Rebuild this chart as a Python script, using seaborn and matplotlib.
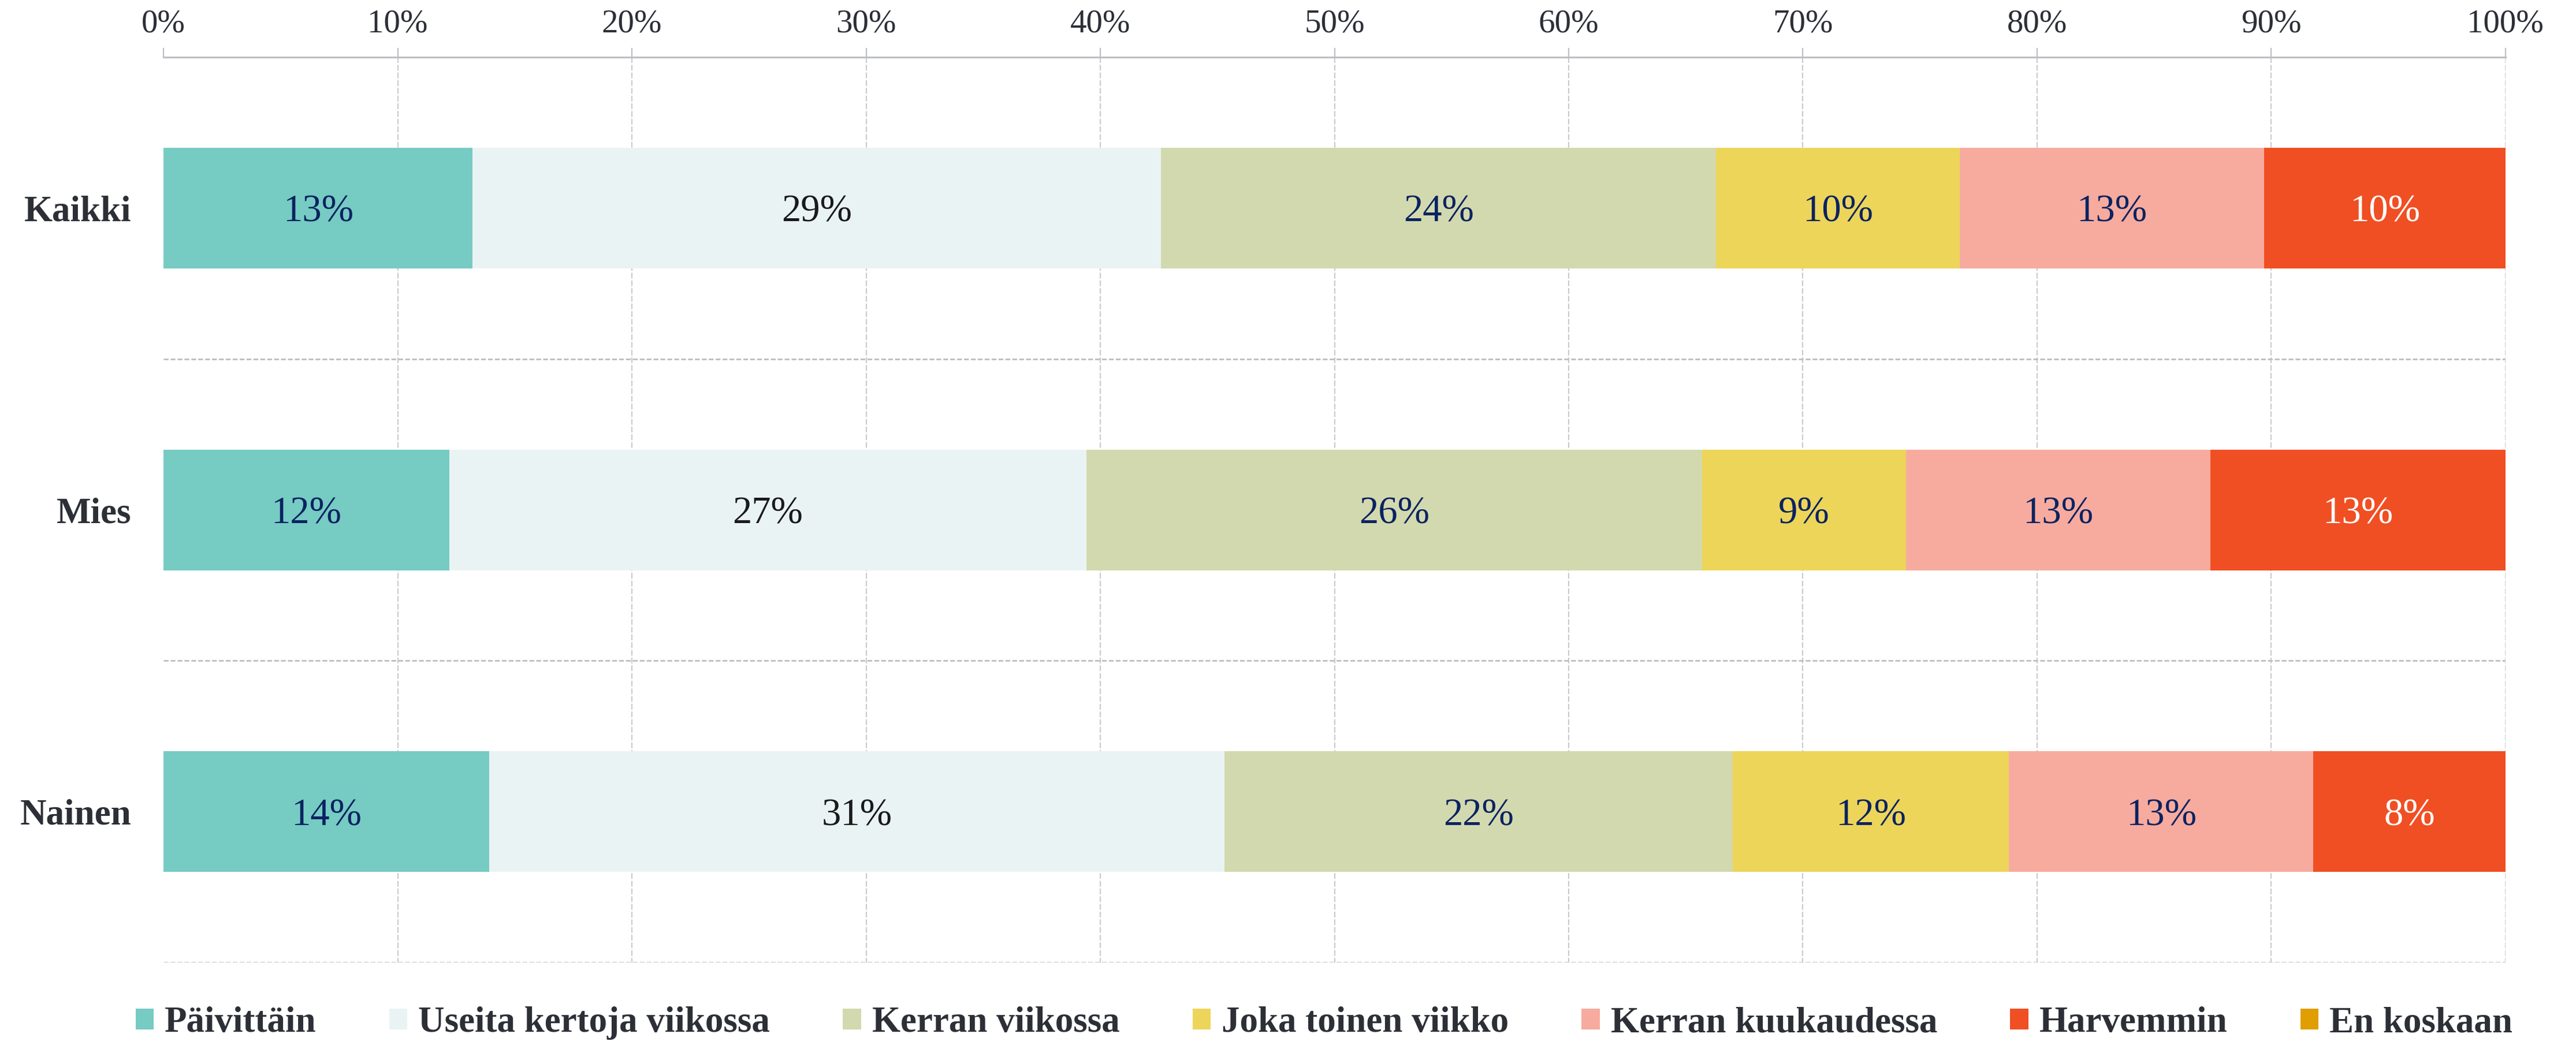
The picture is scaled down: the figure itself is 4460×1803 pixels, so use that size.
import numpy as np
import pandas as pd
import matplotlib
matplotlib.use("Agg")
import matplotlib.pyplot as plt
import seaborn as sns
from matplotlib.patches import Patch

# ---------------- data ----------------
categories = ["Kaikki", "Mies", "Nainen"]
series_names = ["Päivittäin", "Useita kertoja viikossa", "Kerran viikossa",
                "Joka toinen viikko", "Kerran kuukaudessa", "Harvemmin", "En koskaan"]
paivittain = [13.2, 12.2, 13.9]
useita_kertoja_viikossa = [29.4, 27.2, 31.4]
kerran_viikossa = [23.7, 26.3, 21.7]
joka_toinen_viikko = [10.4, 8.7, 11.8]
kerran_kuukaudessa = [13.0, 13.0, 13.0]
harvemmin = [10.3, 12.6, 8.2]
en_koskaan = [0.0, 0.0, 0.0]
x_ticks = [0, 10, 20, 30, 40, 50, 60, 70, 80, 90, 100]
x_tick_labels = ["0%", "10%", "20%", "30%", "40%", "50%", "60%", "70%", "80%", "90%", "100%"]

series_values = [paivittain, useita_kertoja_viikossa, kerran_viikossa,
                 joka_toinen_viikko, kerran_kuukaudessa, harvemmin, en_koskaan]

# ---------------- style ----------------
colors = ["#76CBC3", "#EAF3F4", "#D3D9AE", "#EDD55A", "#F7AB9E", "#F04F23", "#E09E00"]
label_colors = ["#0B2361", "#1A1A1A", "#0B2361", "#0B2361", "#0B2361", "#FFFFFF", "#0B2361"]
text_dark = "#2C2F36"
grid_col = "#BDBFC4"

sns.set_style("white")
plt.rcParams["font.family"] = ["Liberation Serif", "DejaVu Serif"]

fig = plt.figure(figsize=(22.3, 9.015), dpi=200)
ax = fig.add_axes([0.0635, 0.0754, 0.9726 - 0.0635, 0.945 - 0.0754])

left = np.zeros(len(categories))
for name, vals, col, lcol in zip(series_names, series_values, colors, label_colors):
    vals = np.asarray(vals, dtype=float)
    df = pd.DataFrame({"cat": categories, "value": vals})
    if vals.sum() > 0:
        sns.barplot(data=df, x="value", y="cat", order=categories, orient="h",
                    color=col, saturation=1, width=0.4, left=left.copy(),
                    linewidth=0, edgecolor="none", ax=ax, zorder=2)
        for i, v in enumerate(vals):
            if v > 0:
                ax.text(left[i] + v / 2, i, f"{int(round(v))}%", ha="center",
                        va="center_baseline", fontsize=24, color=lcol, zorder=3)
    left = left + vals

# gridlines
ax.vlines(x_ticks[1:], -0.5, len(categories) - 0.5, colors=grid_col,
          linewidth=0.6, linestyles=(0, (6, 2)), zorder=0.5)
ax.hlines(np.arange(len(categories)) + 0.5, 0, 100, colors=grid_col,
          linewidth=1.0, linestyles=(0, (3, 1.3)), zorder=0.5)

ax.set_xlim(0, 100)
ax.set_ylim(len(categories) - 0.5, -0.5)
ax.set_xlabel("")
ax.set_ylabel("")

ax.xaxis.tick_top()
ax.set_xticks(x_ticks)
ax.set_xticklabels(x_tick_labels)
ax.tick_params(axis="x", length=5.8, width=0.8, color=grid_col, pad=5.5,
               labelsize=20.5, labelcolor=text_dark, top=True, bottom=False)
ax.set_yticks(range(len(categories)))
ax.set_yticklabels(categories, fontweight="bold", va="center_baseline")
ax.tick_params(axis="y", length=0, pad=20, labelsize=22.7, labelcolor=text_dark)

for s in ["left", "right", "bottom"]:
    ax.spines[s].set_visible(False)
ax.spines["top"].set_visible(True)
ax.spines["top"].set_color("#BBBEC3")
ax.spines["top"].set_linewidth(1.1)

handles = [Patch(facecolor=c, edgecolor="none", label=n) for n, c in zip(series_names, colors)]
leg = fig.legend(handles=handles, loc="center", bbox_to_anchor=(0.514, 0.017),
                 ncol=7, frameon=False, handlelength=0.5, handleheight=0.5,
                 handletextpad=0.3, columnspacing=2.0,
                 prop={"size": 22.7, "weight": "bold"})
for t in leg.get_texts():
    t.set_color(text_dark)

fig.savefig("out.png", dpi=200)
